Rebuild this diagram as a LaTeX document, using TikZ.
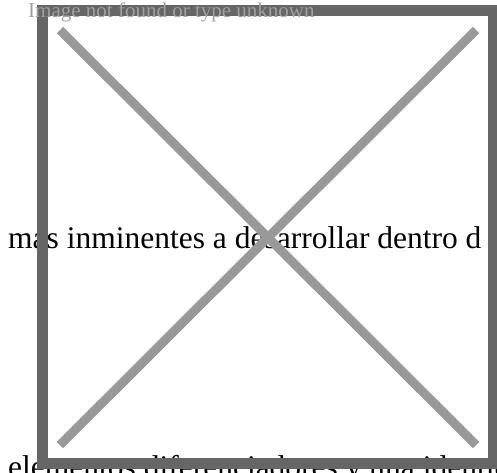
\documentclass[tikz,border=0pt]{standalone}
\usepackage{fontspec}
\setmainfont{Liberation Serif}
\usepackage{tikz}

\definecolor{framegray}{HTML}{666666}
\definecolor{crossgray}{HTML}{999999}
\definecolor{notegray}{HTML}{A0A0A0}

\tikzset{
  bodytext/.style={anchor=base west, inner sep=0pt, font=\fontsize{31.5}{31.5}\selectfont},
  notetext/.style={anchor=base west, inner sep=0pt, text=notegray, font=\fontsize{21}{21}\selectfont},
  crossline/.style={draw=crossgray, line width=9pt},
  frameline/.style={draw=framegray, line width=11pt}
}

\begin{document}
\begin{tikzpicture}[x=1pt,y=1pt,yscale=-1]
    \useasboundingbox (0,0) rectangle (497,472);
    \clip (0,0) rectangle (497,472);

    % Text Node
    \node [bodytext] (midline) at (8,248.5) {mas inminentes a desarrollar dentro d};
    % Text Node
    \node [bodytext] (lowline) at (8,477) {elementos diferenciadores y una identidad visual};

    %Shape: Cross
    \coordinate (tl) at (60,30);
    \coordinate (tr) at (476,30);
    \coordinate (bl) at (60,445);
    \coordinate (br) at (476,445);
    \draw [crossline] (tl) -- (br);
    \draw [crossline] (tr) -- (bl);

    %Shape: Rectangle
    \draw [frameline] (42.5,10.5) rectangle (493.5,463.5);

    % Text Node
    \node [notetext] (note) at (28,17.5) {Image not found or type unknown};
\end{tikzpicture}
\end{document}
